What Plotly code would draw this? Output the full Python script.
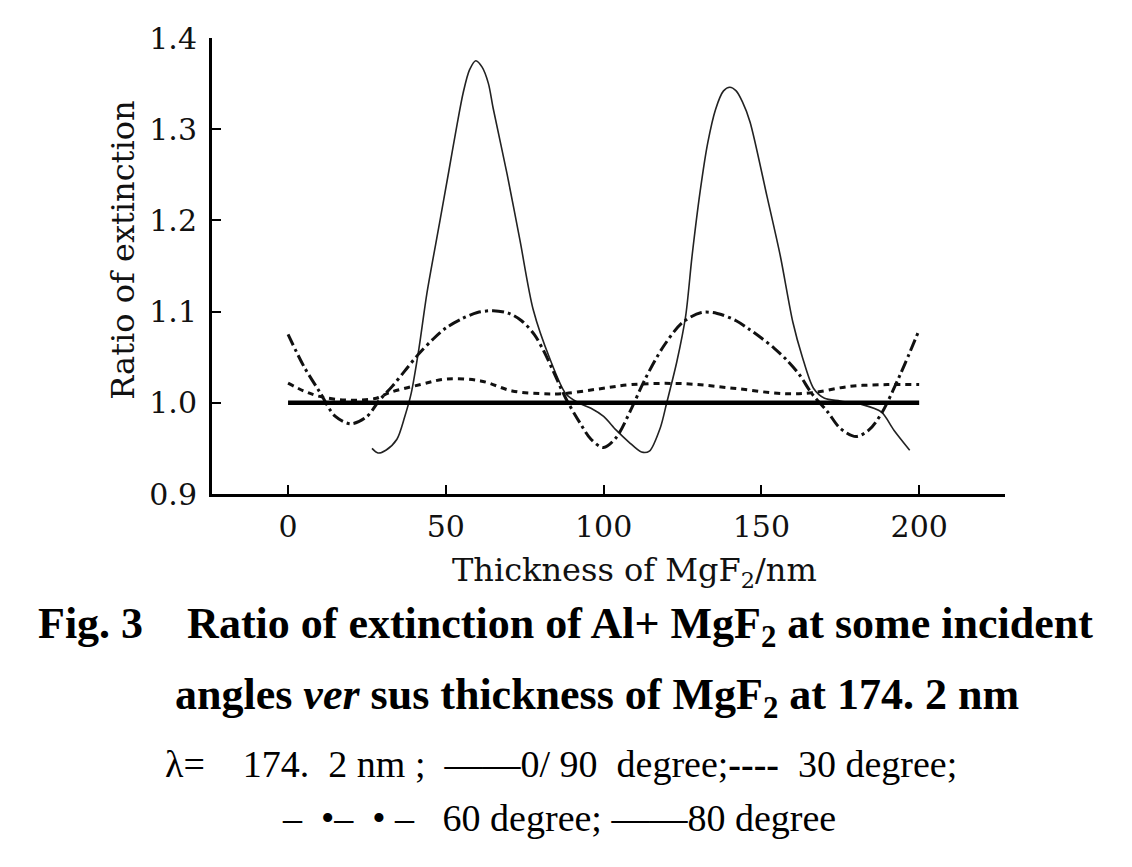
import plotly.graph_objects as go

# ---- data ----
x_0_90 = [0, 50, 100, 150, 200]
y_0_90 = [1.0, 1.0, 1.0, 1.0, 1.0]

x_30 = [0, 5, 10, 18, 28, 32, 42, 50, 61, 71, 80, 87, 98, 109, 125, 141, 157, 166, 178, 190, 200]
y_30 = [1.0215, 1.013, 1.007, 1.003, 1.005, 1.011, 1.02, 1.026, 1.024, 1.013, 1.01, 1.01,
        1.015, 1.02, 1.021, 1.016, 1.01, 1.011, 1.018, 1.02, 1.02]

x_60 = [0, 5, 10, 15, 20, 25, 29, 33, 37, 41, 46, 50, 55, 60, 65, 70, 74, 78, 81, 84, 88,
        92.5, 96, 100, 104, 109, 113, 119, 125, 131, 136, 142, 146, 150, 154, 158, 162, 166,
        171, 175, 180, 184, 188, 194, 200]
y_60 = [1.075, 1.04, 1.012, 0.985, 0.977, 0.985, 1.003, 1.018, 1.035, 1.052, 1.07, 1.082,
        1.092, 1.099, 1.101, 1.098, 1.09, 1.075, 1.057, 1.035, 1.005, 0.978, 0.96, 0.951,
        0.962, 0.995, 1.025, 1.062, 1.088, 1.099, 1.098, 1.09, 1.081, 1.071, 1.06, 1.047,
        1.031, 1.01, 0.99, 0.972, 0.963, 0.97, 0.988, 1.031, 1.08]

x_80 = [26.6, 28.5, 31, 34.5, 37, 39, 41.5, 44, 48, 51, 53.5, 55.5, 57.5, 59.5, 61.5, 63.5,
        65, 69.4, 73.5, 77.7, 83, 88, 92, 96, 100, 104, 108, 112, 114.5, 118, 120, 123.2,
        126, 128, 130.6, 133, 135.5, 138, 140, 142, 144, 146.4, 151.8, 156, 160, 163, 166.5,
        170, 175, 182, 188, 192, 197]
y_80 = [0.95, 0.945, 0.948, 0.96, 0.985, 1.01, 1.06, 1.12, 1.197, 1.255, 1.304, 1.34, 1.365,
        1.375, 1.368, 1.35, 1.323, 1.251, 1.178, 1.102, 1.048, 1.01, 1.0, 0.994, 0.985, 0.97,
        0.957, 0.946, 0.947, 0.973, 1.0, 1.045, 1.095, 1.16, 1.232, 1.285, 1.322, 1.342, 1.346,
        1.342, 1.33, 1.308, 1.226, 1.161, 1.088, 1.05, 1.016, 1.005, 1.002, 0.998, 0.99, 0.97,
        0.948]

x_ticks = [0, 50, 100, 150, 200]
y_ticks = [0.9, 1.0, 1.1, 1.2, 1.3, 1.4]

W, H = 1132, 867
OFF = 8  # page body margin
L, R, T, B = 212 - OFF, 1005 - OFF, 31 - OFF, 494 - OFF

def px(xp):
    return (xp - OFF - L) / (R - L)

def py(yp):
    return (B - (yp - OFF)) / (B - T)

fig = go.Figure()
fig.add_trace(go.Scatter(x=x_80, y=y_80, mode="lines", name="80 degree",
                         line=dict(color="#222", width=1.6, shape="spline", smoothing=0.8)))
fig.add_trace(go.Scatter(x=x_30, y=y_30, mode="lines", name="30 degree",
                         line=dict(color="#111", width=3, dash="6px,5px", shape="spline", smoothing=1)))
fig.add_trace(go.Scatter(x=x_60, y=y_60, mode="lines", name="60 degree",
                         line=dict(color="#111", width=3, dash="12px,4px,3px,4px", shape="spline", smoothing=0.9)))
fig.add_trace(go.Scatter(x=x_0_90, y=y_0_90, mode="lines", name="0/90 degree",
                         line=dict(color="#000", width=4.5)))

tick_font = dict(family="DejaVu Serif", size=30, color="#111")
title_font = dict(family="DejaVu Serif", size=32, color="#111")

fig.update_layout(
    width=W, height=H,
    margin=dict(l=L, r=W - R, t=T, b=H - B, pad=0),
    paper_bgcolor="white", plot_bgcolor="white",
    showlegend=False,
    xaxis=dict(range=[-24.1, 227.2], tickvals=x_ticks, ticktext=[str(v) for v in x_ticks],
               ticks="inside", ticklen=9, tickwidth=2, tickcolor="#000", ticklabelstandoff=4,
               showline=True, linecolor="#000", linewidth=3, showgrid=False, zeroline=False,
               tickfont=tick_font),
    yaxis=dict(range=[0.9, 1.4], tickvals=y_ticks, ticktext=[f"{v:.1f}" for v in y_ticks],
               ticks="inside", ticklen=9, tickwidth=2, tickcolor="#000", ticklabelstandoff=6,
               showline=True, linecolor="#000", linewidth=3, showgrid=False, zeroline=False,
               tickfont=tick_font),
)

fig.add_annotation(text="Thickness of MgF<sub>2</sub>/nm", x=px(634), y=py(573),
                   xref="paper", yref="paper", showarrow=False, font=title_font,
                   xanchor="center", yanchor="middle")
fig.add_annotation(text="Ratio of extinction", x=px(123), y=py(247), textangle=-90,
                   xref="paper", yref="paper", showarrow=False, font=title_font,
                   xanchor="center", yanchor="middle")

cap_bold = dict(family="Liberation Serif", size=44, color="#000")
cap_reg = dict(family="Liberation Serif", size=38, color="#000")
sp = "\u00a0"
captions = [
    (f"<b>Fig. 3{sp*4}Ratio of extinction of Al+ MgF<sub>2</sub> at some incident</b>", 565, 629, cap_bold),
    (f"<b>angles <i>ver</i> sus thickness of MgF<sub>2</sub> at 174. 2 nm</b>", 597, 701, cap_bold),
    (f"\u03bb={sp*4}174.{sp*2}2 nm{sp};{sp*2}\u2014\u20140/{sp}90{sp*2}degree;<b>----</b>{sp*2}30 degree;", 561, 768, cap_reg),
    (f"\u2013{sp*2}\u2022\u2013{sp*2}\u2022{sp}\u2013{sp*3}60 degree;{sp}\u2014\u201480 degree", 559, 823, cap_reg),
]
for text, cx, cy, f in captions:
    fig.add_annotation(text=text, x=px(cx), y=py(cy), xref="paper", yref="paper",
                       showarrow=False, font=f, xanchor="center", yanchor="middle")

fig.write_html("out.html")
